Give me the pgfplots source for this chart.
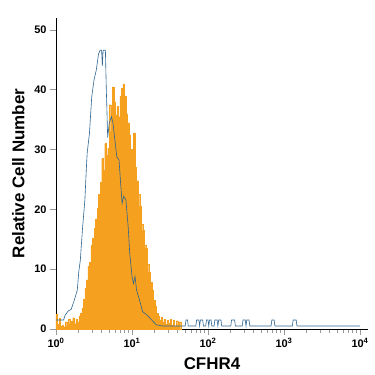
\documentclass[border=0pt]{standalone}
\usepackage{fontspec}
\setmainfont{Liberation Sans}
\usepackage{pgfplots}
\pgfplotsset{compat=1.18}
\definecolor{forange}{HTML}{F5A01E}
\definecolor{fblue}{HTML}{2E6591}
\definecolor{tickgray}{HTML}{9A9A9A}
\pgfplotstableread{
x y
0.00 2.5
0.02 0.8
0.04 1.8
0.06 0.5
0.08 0.7
0.10 0.4
0.12 1.2
0.14 0.5
0.16 1.6
0.18 0.8
0.20 1.3
0.22 1.9
0.24 0.9
0.26 1.6
0.28 1.2
0.30 2.2
0.32 2.6
0.34 3.5
0.36 5.0
0.38 6.8
0.40 8.2
0.42 10.5
0.44 11.2
0.46 14.0
0.48 15.2
0.50 16.8
0.52 18.4
0.54 20.2
0.56 22.5
0.58 24.5
0.60 28.5
0.62 26.5
0.64 31.0
0.66 29.0
0.68 30.2
0.70 37.5
0.72 33.0
0.74 40.5
0.76 38.0
0.78 35.8
0.80 37.2
0.82 35.5
0.84 39.0
0.86 40.2
0.88 41.0
0.90 39.0
0.92 36.0
0.94 34.5
0.96 32.5
0.98 30.0
1.00 29.5
1.02 32.8
1.04 27.0
1.06 24.8
1.08 22.5
1.10 20.5
1.12 17.5
1.14 16.5
1.16 14.0
1.18 13.5
1.20 10.8
1.22 9.5
1.24 7.8
1.26 6.5
1.28 4.8
1.30 3.8
1.32 2.6
1.34 2.2
1.36 1.5
1.38 2.0
1.40 1.2
1.42 1.6
1.44 0.8
1.46 1.5
1.48 1.0
1.50 1.6
1.52 0.7
1.54 1.5
1.56 0.5
1.58 1.4
1.60 0.6
1.62 1.2
1.64 0
}\sample
\pgfplotstableread{
x y
0.00 1.5
0.10 1.5
0.12 2.3
0.16 3.0
0.20 3.3
0.24 4.8
0.28 6.5
0.30 9.6
0.32 11.5
0.35 17
0.38 21.6
0.40 27
0.41 29.4
0.44 32.7
0.47 38.8
0.50 41.6
0.53 43.3
0.56 46
0.58 46.6
0.60 46.6
0.61 44
0.62 46.6
0.65 46.6
0.66 41
0.68 32
0.70 34.4
0.73 35.5
0.75 34.4
0.78 31
0.80 28.8
0.83 28.2
0.85 24.4
0.87 21
0.89 22.2
0.92 21.6
0.95 17
0.97 12.7
1.00 8.8
1.02 7.6
1.04 8.8
1.06 6.5
1.10 4.8
1.14 2.9
1.20 2.3
1.26 1.5
1.32 0.7
1.40 0.5
1.70 0.5
1.71 1.5
1.73 1.5
1.74 0.5
1.84 0.5
1.85 1.5
1.88 1.5
1.89 0.5
1.90 1.5
1.93 1.5
1.94 0.5
1.97 0.5
1.98 1.5
2.00 1.5
2.01 0.5
2.02 1.5
2.04 1.5
2.05 0.5
2.08 0.5
2.09 1.5
2.12 1.5
2.13 0.5
2.14 1.5
2.17 1.5
2.18 0.5
2.30 0.5
2.31 1.5
2.35 1.5
2.36 0.5
2.45 0.5
2.46 1.5
2.49 1.5
2.50 0.5
2.51 1.5
2.54 1.5
2.55 0.5
2.83 0.5
2.84 1.5
2.87 1.5
2.88 0.5
3.11 0.5
3.12 1.5
3.16 1.5
3.17 0.5
4.00 0.5
}\control
\begin{document}
\begin{tikzpicture}
\begin{axis}[
  scale only axis, width=312bp, height=311bp,
  xmin=0, xmax=4.105, ymin=0, ymax=52,
  axis lines=left, axis line style={-, black, line width=0.8pt},
  tick align=outside,
  xtick={0,1,2,3,4},
  xticklabels={10\textsuperscript{0},10\textsuperscript{1},10\textsuperscript{2},10\textsuperscript{3},10\textsuperscript{4}},
  minor xtick={0.301,0.477,0.602,0.699,0.778,0.845,0.903,0.954,
    1.301,1.477,1.602,1.699,1.778,1.845,1.903,1.954,
    2.301,2.477,2.602,2.699,2.778,2.845,2.903,2.954,
    3.301,3.477,3.602,3.699,3.778,3.845,3.903,3.954},
  ytick={0,10,20,30,40,50},
  major tick length=6bp, minor tick length=4bp,
  every tick/.style={tickgray, line width=0.8pt},
  tick label style={font=\fontsize{11}{13}\selectfont\bfseries},
  /pgf/number format/assume math mode=true,
  xlabel={CFHR4}, ylabel={Relative Cell Number},
  label style={font=\fontsize{17}{20}\selectfont\bfseries},
  xlabel style={yshift=-3bp},
  ylabel style={yshift=3bp},
  clip=false,
]
\addplot[const plot, fill=forange, draw=forange, line width=0.2pt] table[x=x,y=y]{\sample} \closedcycle;
\addplot[fblue, line width=0.6pt] table[x=x,y=y]{\control};
\end{axis}
\useasboundingbox (-56bp,-46bp) rectangle (319bp,329bp);
\end{tikzpicture}
\end{document}
